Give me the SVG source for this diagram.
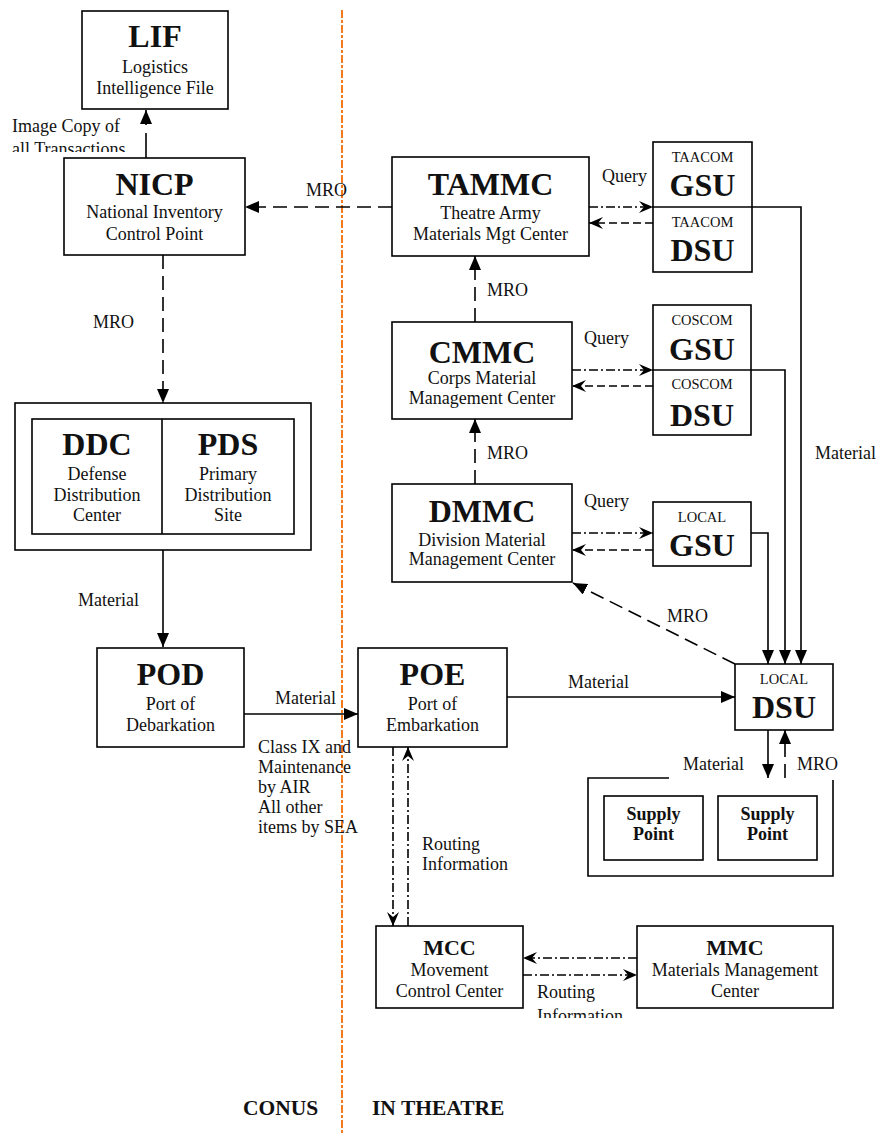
<svg xmlns="http://www.w3.org/2000/svg" width="877" height="1133" viewBox="0 0 877 1133">
<style>
.box{fill:#fff;stroke:#000;stroke-width:1.6}
.t{font-family:"Liberation Serif","Times New Roman",serif;fill:#111}
.title{font-weight:bold;font-size:32px;text-anchor:middle}
.title2{font-weight:bold;font-size:22px;text-anchor:middle}
.sub{font-size:18px;text-anchor:middle}
.small{font-size:14.5px;text-anchor:middle}
.lbl{font-size:18px}
.bl{font-size:18px;font-weight:bold;text-anchor:middle}
.big{font-size:21.5px;font-weight:bold}
.ln{stroke:#000;stroke-width:1.6;fill:none}
.dash{stroke-dasharray:14,7}
.dd{stroke-dasharray:9,3,2,3}
.sd{stroke-dasharray:8,4}
</style>
<defs>
<marker id="tri" viewBox="0 0 14 12" refX="14" refY="6" markerWidth="14" markerHeight="12" markerUnits="userSpaceOnUse" orient="auto">
<path d="M0,0 L14,6 L0,12 z" fill="#000"/>
</marker>
<marker id="barb" viewBox="0 0 14 12" refX="14" refY="6" markerWidth="14" markerHeight="12" markerUnits="userSpaceOnUse" orient="auto">
<path d="M0,0 L14,6 L0,12 L5,6 z" fill="#000"/>
</marker>
<clipPath id="c1"><rect x="0" y="0" width="300" height="152"/></clipPath>
<clipPath id="c2"><rect x="500" y="900" width="300" height="118"/></clipPath>
</defs>

<line x1="342" y1="10" x2="342" y2="1133" stroke="#f47a20" stroke-width="2" stroke-dasharray="8,2,3,2"/>

<g id="connectors">
<line class="ln" x1="146" y1="133" x2="146" y2="158"/>
<line class="ln" x1="146" y1="125" x2="146" y2="110" marker-end="url(#tri)"/>
<line class="ln dash" x1="392" y1="207" x2="245" y2="207" marker-end="url(#tri)"/>
<line class="ln dash" x1="163" y1="255" x2="163" y2="403" marker-end="url(#tri)"/>
<line class="ln" x1="163" y1="550" x2="163" y2="647" marker-end="url(#tri)"/>
<line class="ln dash" x1="475" y1="322" x2="475" y2="256" marker-end="url(#tri)"/>
<line class="ln dash" x1="475" y1="484" x2="475" y2="419" marker-end="url(#tri)"/>
<line class="ln dd" x1="589" y1="207" x2="653" y2="207" marker-end="url(#barb)"/>
<line class="ln sd" x1="653" y1="223" x2="589" y2="223" marker-end="url(#barb)"/>
<line class="ln dd" x1="572" y1="370" x2="653" y2="370" marker-end="url(#barb)"/>
<line class="ln sd" x1="653" y1="386" x2="572" y2="386" marker-end="url(#barb)"/>
<line class="ln dd" x1="572" y1="533" x2="653" y2="533" marker-end="url(#barb)"/>
<line class="ln sd" x1="653" y1="550" x2="572" y2="550" marker-end="url(#barb)"/>
<path class="ln" d="M752,207 H801 V664" marker-end="url(#tri)"/>
<path class="ln" d="M751,370 H785 V664" marker-end="url(#tri)"/>
<path class="ln" d="M751,533 H768 V664" marker-end="url(#tri)"/>
<line class="ln dash" x1="735" y1="664" x2="573" y2="583" marker-end="url(#tri)"/>
<line class="ln" x1="244" y1="714" x2="358" y2="714" marker-end="url(#tri)"/>
<line class="ln" x1="507" y1="697" x2="735" y2="697" marker-end="url(#tri)"/>
<line class="ln" x1="768" y1="730" x2="768" y2="778" marker-end="url(#tri)"/>
<line class="ln dash" x1="785" y1="778" x2="785" y2="730" marker-end="url(#tri)"/>
<line class="ln dd" x1="393" y1="747" x2="393" y2="926" marker-end="url(#barb)"/>
<line class="ln dd" x1="408" y1="926" x2="408" y2="747" marker-end="url(#barb)"/>
<line class="ln dd" x1="637" y1="958" x2="523" y2="958" marker-end="url(#barb)"/>
<line class="ln dd" x1="523" y1="975" x2="637" y2="975" marker-end="url(#barb)"/>
</g>

<g id="labels">
<g clip-path="url(#c1)">
<text class="t lbl" x="12" y="132">Image Copy of</text>
<text class="t lbl" x="12" y="155">all Transactions</text>
</g>
<text class="t lbl" x="306" y="196">MRO</text>
<text class="t lbl" x="93" y="328">MRO</text>
<text class="t lbl" x="487" y="296">MRO</text>
<text class="t lbl" x="487" y="459">MRO</text>
<text class="t lbl" x="602" y="182">Query</text>
<text class="t lbl" x="584" y="344">Query</text>
<text class="t lbl" x="584" y="507">Query</text>
<text class="t lbl" x="815" y="459">Material</text>
<text class="t lbl" x="667" y="622">MRO</text>
<text class="t lbl" x="78" y="606">Material</text>
<text class="t lbl" x="275" y="704">Material</text>
<text class="t lbl" x="568" y="688">Material</text>
<text class="t lbl" x="683" y="770">Material</text>
<text class="t lbl" x="797" y="770">MRO</text>
<text class="t lbl" x="258" y="753">Class IX and</text>
<text class="t lbl" x="258" y="773">Maintenance</text>
<text class="t lbl" x="258" y="793">by AIR</text>
<text class="t lbl" x="258" y="813">All other</text>
<text class="t lbl" x="258" y="833">items by SEA</text>
<text class="t lbl" x="422" y="850">Routing</text>
<text class="t lbl" x="422" y="870">Information</text>
<g clip-path="url(#c2)">
<text class="t lbl" x="537" y="998">Routing</text>
<text class="t lbl" x="537" y="1022">Information</text>
</g>
<text class="t big" x="243" y="1115">CONUS</text>
<text class="t big" x="372" y="1115">IN THEATRE</text>
</g>

<g id="LIF">
<rect class="box" x="82" y="11" width="146" height="98"/>
<text class="t title" x="155" y="47">LIF</text>
<text class="t sub" x="155" y="73">Logistics</text>
<text class="t sub" x="155" y="94">Intelligence File</text>
</g>

<g id="NICP">
<rect class="box" x="64" y="158" width="181" height="97"/>
<text class="t title" x="154.5" y="195">NICP</text>
<text class="t sub" x="154.5" y="218">National Inventory</text>
<text class="t sub" x="154.5" y="240">Control Point</text>
</g>

<g id="TAMMC">
<rect class="box" x="392" y="157" width="197" height="99"/>
<text class="t title" x="490.5" y="195">TAMMC</text>
<text class="t sub" x="490.5" y="219">Theatre Army</text>
<text class="t sub" x="490.5" y="240">Materials Mgt Center</text>
</g>

<g id="TAACOM">
<rect class="box" x="653" y="142" width="99" height="130"/>
<line class="ln" x1="653" y1="207" x2="752" y2="207"/>
<text class="t small" x="702.5" y="162">TAACOM</text>
<text class="t title" x="702.5" y="196">GSU</text>
<text class="t small" x="702.5" y="227">TAACOM</text>
<text class="t title" x="702.5" y="261">DSU</text>
</g>

<g id="CMMC">
<rect class="box" x="392" y="322" width="180" height="97"/>
<text class="t title" x="482" y="363">CMMC</text>
<text class="t sub" x="482" y="384">Corps Material</text>
<text class="t sub" x="482" y="404">Management Center</text>
</g>

<g id="COSCOM">
<rect class="box" x="653" y="305" width="98" height="130"/>
<line class="ln" x1="653" y1="370" x2="751" y2="370"/>
<text class="t small" x="702" y="325">COSCOM</text>
<text class="t title" x="702" y="360">GSU</text>
<text class="t small" x="702" y="389">COSCOM</text>
<text class="t title" x="702" y="426">DSU</text>
</g>

<g id="DMMC">
<rect class="box" x="392" y="484" width="180" height="98"/>
<text class="t title" x="482" y="522">DMMC</text>
<text class="t sub" x="482" y="546">Division Material</text>
<text class="t sub" x="482" y="565">Management Center</text>
</g>

<g id="LOCALGSU">
<rect class="box" x="653" y="502" width="98" height="64"/>
<text class="t small" x="702" y="522">LOCAL</text>
<text class="t title" x="702" y="556">GSU</text>
</g>

<g id="DDC-PDS">
<rect class="box" x="15" y="403" width="296" height="147"/>
<rect class="box" x="32" y="419" width="262" height="115"/>
<line class="ln" x1="162" y1="419" x2="162" y2="534"/>
<text class="t title" x="97" y="455">DDC</text>
<text class="t sub" x="97" y="480">Defense</text>
<text class="t sub" x="97" y="501">Distribution</text>
<text class="t sub" x="97" y="521">Center</text>
<text class="t title" x="228" y="455">PDS</text>
<text class="t sub" x="228" y="480">Primary</text>
<text class="t sub" x="228" y="501">Distribution</text>
<text class="t sub" x="228" y="521">Site</text>
</g>

<g id="POD">
<rect class="box" x="97" y="648" width="147" height="99"/>
<text class="t title" x="170.5" y="685">POD</text>
<text class="t sub" x="170.5" y="710">Port of</text>
<text class="t sub" x="170.5" y="731">Debarkation</text>
</g>

<g id="POE">
<rect class="box" x="358" y="648" width="149" height="99"/>
<text class="t title" x="432.5" y="685">POE</text>
<text class="t sub" x="432.5" y="710">Port of</text>
<text class="t sub" x="432.5" y="731">Embarkation</text>
</g>

<g id="LOCALDSU">
<rect class="box" x="735" y="664" width="98" height="66"/>
<text class="t small" x="784" y="684">LOCAL</text>
<text class="t title" x="784" y="718">DSU</text>
</g>

<g id="SupplyPoints">
<path class="ln" d="M669,778 H588 V876 H833 V780"/>
<rect class="box" x="604" y="796" width="99" height="64"/>
<text class="t bl" x="653.5" y="820">Supply</text>
<text class="t bl" x="653.5" y="840">Point</text>
<rect class="box" x="718" y="796" width="99" height="64"/>
<text class="t bl" x="767.5" y="820">Supply</text>
<text class="t bl" x="767.5" y="840">Point</text>
</g>

<g id="MCC">
<rect class="box" x="376" y="926" width="147" height="82"/>
<text class="t title2" x="449.5" y="955">MCC</text>
<text class="t sub" x="449.5" y="976">Movement</text>
<text class="t sub" x="449.5" y="997">Control Center</text>
</g>

<g id="MMC">
<rect class="box" x="637" y="926" width="196" height="82"/>
<text class="t title2" x="735" y="955">MMC</text>
<text class="t sub" x="735" y="976">Materials Management</text>
<text class="t sub" x="735" y="997">Center</text>
</g>
</svg>
